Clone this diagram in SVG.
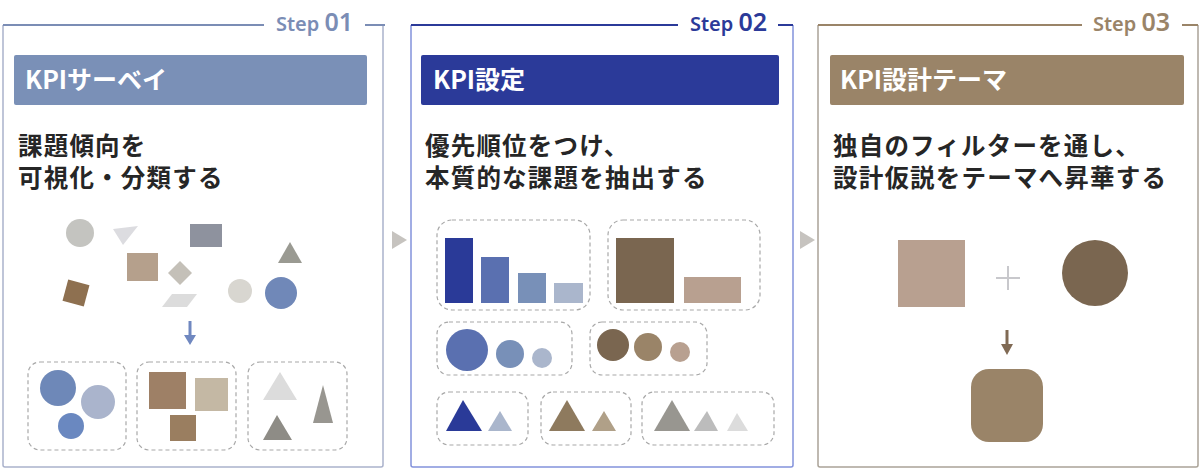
<svg xmlns="http://www.w3.org/2000/svg" width="1200" height="470" viewBox="0 0 1200 470">
<defs>
<style>
.step{font-family:"Noto Sans","Liberation Sans",sans-serif;font-weight:600}
.s1{font-size:20px}.s2{font-size:25px}
.ttl{font-family:"Noto Sans CJK JP","Noto Sans",sans-serif;font-weight:700;font-size:25px;fill:#ffffff}
.body{font-family:"Noto Sans CJK JP","Noto Sans",sans-serif;font-weight:700;font-size:24.5px;fill:#262626;letter-spacing:1.2px}
.grp{fill:none;stroke:#a8a8a8;stroke-width:1.2;stroke-dasharray:4 3}
.gap{fill:#ffffff}
</style>
</defs>
<rect width="1200" height="470" fill="#ffffff"/>

<!-- Panel 1 -->
<g id="step01">
<path d="M3,25 V465 Q3,467 5,467 H381 Q383,467 383,465 V25" fill="none" stroke="#aab2cc" stroke-width="1.5"/>
<line x1="3" y1="25" x2="385" y2="25" stroke="#7b8db5" stroke-width="2"/>
<rect class="gap" x="264" y="12" width="101" height="24"/>
<text class="step" x="276" y="31" fill="#7b8db5"><tspan class="s1">Step </tspan><tspan class="s2">01</tspan></text>
<rect x="14" y="55" width="353" height="50" rx="2" fill="#7a90b7"/>
<text class="ttl" x="25" y="89">KPIサーベイ</text>
<text class="body" x="18" y="155">課題傾向を</text>
<text class="body" x="18" y="187">可視化・分類する</text>
<!-- scattered shapes -->
<circle cx="80" cy="233" r="14" fill="#c4c4c0"/>
<polygon points="113,229 138,226 123,245" fill="#dcdce0"/>
<rect x="190" y="224" width="32" height="23" fill="#8e929e"/>
<polygon points="278,263 302,263 290,242" fill="#9a9a92"/>
<rect x="127" y="253" width="31" height="28" fill="#b5a08c"/>
<polygon points="180,261 192,273 180,285 168,273" fill="#c4c0b8"/>
<rect x="65" y="282" width="22" height="22" fill="#8e7050" transform="rotate(15 76 293)"/>
<polygon points="162,307 172,294 197,294 187,307" fill="#dcdcdc"/>
<circle cx="240" cy="291" r="12" fill="#d8d6d0"/>
<circle cx="281" cy="293" r="16" fill="#7088b8"/>
<!-- grouped -->
<rect class="grp" x="28" y="362" width="98" height="88" rx="12"/>
<circle cx="58" cy="388" r="18" fill="#6e88b8"/>
<circle cx="98" cy="402" r="17" fill="#aab4cc"/>
<circle cx="71" cy="426" r="13" fill="#6a88c0"/>
<rect class="grp" x="137" y="362" width="99" height="88" rx="12"/>
<rect x="149" y="372" width="37" height="37" fill="#9e8066"/>
<rect x="195" y="378" width="33" height="33" fill="#c4b8a4"/>
<rect x="170" y="415" width="26" height="26" fill="#9a7e60"/>
<rect class="grp" x="248" y="362" width="99" height="88" rx="12"/>
<polygon points="263,400 297,400 280,372" fill="#dcdcdc"/>
<polygon points="313,423 333,423 323,385" fill="#989690"/>
<polygon points="263,440 292,440 277,415" fill="#8e8c86"/>
</g>

<!-- Panel 2 -->
<g id="step02">
<path d="M411,25 V465 Q411,467 413,467 H791 Q793,467 793,465 V25" fill="none" stroke="#8392dc" stroke-width="1.5"/>
<line x1="411" y1="25" x2="793" y2="25" stroke="#2b3a99" stroke-width="2"/>
<rect class="gap" x="678" y="12" width="100" height="24"/>
<text class="step" x="690" y="31" fill="#2b3a99"><tspan class="s1">Step </tspan><tspan class="s2">02</tspan></text>
<rect x="421" y="55" width="358" height="50" rx="2" fill="#2b3a99"/>
<text class="ttl" x="433" y="89">KPI設定</text>
<text class="body" x="425" y="155">優先順位をつけ、</text>
<text class="body" x="425" y="187">本質的な課題を抽出する</text>
<rect class="grp" x="437" y="220" width="153" height="90" rx="15"/>
<rect x="445" y="238" width="28" height="65" fill="#2a3a98"/>
<rect x="481" y="257" width="28" height="46" fill="#5a70b0"/>
<rect x="518" y="273" width="28" height="30" fill="#7890b8"/>
<rect x="554" y="283" width="29" height="20" fill="#aab6cc"/>
<rect class="grp" x="608" y="220" width="152" height="90" rx="15"/>
<rect x="616" y="238" width="58" height="65" fill="#7a6650"/>
<rect x="684" y="277" width="57" height="26" fill="#b8a090"/>
<rect class="grp" x="437" y="322" width="135" height="53" rx="12"/>
<circle cx="467" cy="350" r="21" fill="#5a70b0"/>
<circle cx="510" cy="354" r="14" fill="#7890b8"/>
<circle cx="542" cy="358" r="10" fill="#aab6cc"/>
<rect class="grp" x="590" y="322" width="117" height="53" rx="12"/>
<circle cx="613" cy="345" r="16" fill="#7a6650"/>
<circle cx="648" cy="347" r="14" fill="#9a8468"/>
<circle cx="680" cy="352" r="10" fill="#b8a090"/>
<rect class="grp" x="437" y="392" width="91" height="53" rx="12"/>
<polygon points="446,431 482,431 463,400" fill="#2a3a98"/>
<polygon points="488,431 512,431 500,411" fill="#aab6cc"/>
<rect class="grp" x="541" y="392" width="90" height="53" rx="12"/>
<polygon points="549,431 585,431 567,400" fill="#8e7a5e"/>
<polygon points="592,431 616,431 604,411" fill="#b0a088"/>
<rect class="grp" x="642" y="392" width="132" height="53" rx="12"/>
<polygon points="654,431 690,431 672,400" fill="#989690"/>
<polygon points="694,431 718,431 707,411" fill="#bcbcbc"/>
<polygon points="727,431 748,431 737,413" fill="#dcdcdc"/>
</g>

<!-- Panel 3 -->
<g id="step03">
<path d="M818,25 V465 Q818,467 820,467 H1196 Q1198,467 1198,465 V25" fill="none" stroke="#aaa398" stroke-width="1.5"/>
<line x1="818" y1="25" x2="1198" y2="25" stroke="#9a8468" stroke-width="2"/>
<rect class="gap" x="1082" y="12" width="100" height="24"/>
<text class="step" x="1093" y="31" fill="#9a8468"><tspan class="s1">Step </tspan><tspan class="s2">03</tspan></text>
<rect x="830" y="55" width="354" height="50" rx="2" fill="#9a8468"/>
<text class="ttl" x="840" y="89">KPI設計テーマ</text>
<text class="body" x="833" y="155">独自のフィルターを通し、</text>
<text class="body" x="833" y="187">設計仮説をテーマへ昇華する</text>
<rect x="898" y="240" width="67" height="67" fill="#b8a090"/>
<path d="M996,278 H1020 M1008,266 V290" stroke="#c8c8cc" stroke-width="2" fill="none"/>
<circle cx="1095" cy="273" r="33" fill="#7a6650"/>
<rect x="971" y="369" width="72" height="73" rx="18" fill="#9a8468"/>
</g>

<!-- Connectors -->
<g id="connectors">
<polygon points="392,231 407,240 392,249" fill="#c6c3bf"/>
<polygon points="800,231 815,240 800,249" fill="#c6c3bf"/>
<line x1="190" y1="321" x2="190" y2="337" stroke="#7088c0" stroke-width="3"/>
<polygon points="184,335 196,335 190,345" fill="#7088c0"/>
<line x1="1007" y1="330" x2="1007" y2="346" stroke="#806a54" stroke-width="3"/>
<polygon points="1001,344 1013,344 1007,355" fill="#806a54"/>
</g>
</svg>
